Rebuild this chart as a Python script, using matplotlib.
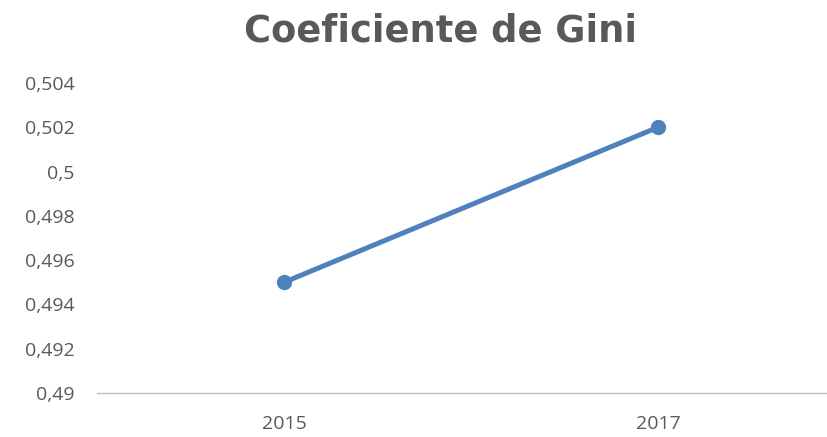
import numpy as np
import matplotlib.pyplot as plt
from matplotlib.ticker import FuncFormatter

# datos
anos = ['2015', '2017']
gini = [0.495, 0.502]
y_ticks = [0.49, 0.492, 0.494, 0.496, 0.498, 0.5, 0.502, 0.504]

fig = plt.figure(figsize=(8.27, 4.37), dpi=100)
ax = fig.add_axes([97 / 827, 1 - 393 / 437, 748 / 827, 310 / 437])

x = np.arange(len(anos))
ax.plot(x, gini, color='#4F81BD', linewidth=3.6, marker='o', markersize=10,
        solid_capstyle='round')

ax.set_xlim(-0.5, 1.5)
ax.set_ylim(0.49, 0.504)
ax.set_xticks(x)
ax.set_xticklabels(anos)
ax.set_yticks(y_ticks)
ax.yaxis.set_major_formatter(FuncFormatter(lambda v, p: f"{v:g}".replace('.', ',')))

for s in ['top', 'right', 'left']:
    ax.spines[s].set_visible(False)
ax.spines['bottom'].set_color('#BFBFBF')
ax.spines['bottom'].set_linewidth(1)
ax.tick_params(length=0, labelsize=14, colors='#595959')
for lab in ax.get_xticklabels() + ax.get_yticklabels():
    lab.set_family('Open Sans')
ax.tick_params(axis='x', pad=16)
ax.tick_params(axis='y', pad=16)

fig.text(440 / 827, 1 - 31 / 437, 'Coeficiente de Gini', ha='center', va='center',
         fontsize=26.5, fontweight='bold', color='#595959', family='DejaVu Sans')

fig.savefig('out.png', dpi=100)
